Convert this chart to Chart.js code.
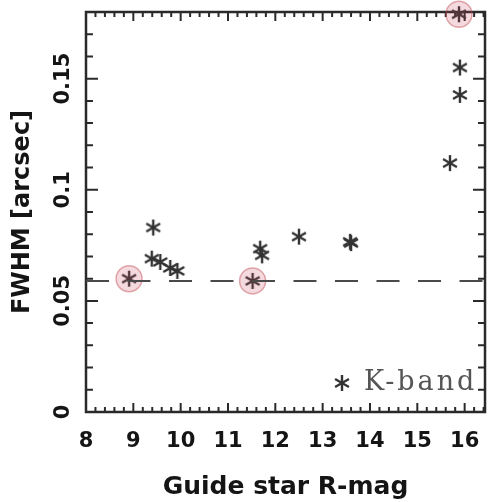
<!DOCTYPE html>
<html>
<head>
<meta charset="utf-8">
<script src="https://cdn.jsdelivr.net/npm/chart.js@4.4.1/dist/chart.umd.min.js"></script>
<style>
  html, body { margin: 0; padding: 0; background: #fff; }
</style>
</head>
<body>
<canvas id="fwhmChart" width="489" height="502"></canvas>
<script>
// K-band measurements: guide star R magnitude and measured FWHM (arcsec)
const kbandMag  = [8.91, 9.42, 9.39, 9.57, 9.78, 9.93, 11.52, 11.68, 11.72, 12.50, 13.58, 13.60, 15.69, 15.90, 15.90, 15.88];
const kbandFwhm = [0.060, 0.083, 0.069, 0.0675, 0.0648, 0.0635, 0.059, 0.0735, 0.0705, 0.0789, 0.0766, 0.0760, 0.112, 0.1427, 0.155, 0.179];

// the three stars that are circled in red
const circledMag  = [8.91, 11.52, 15.88];
const circledFwhm = [0.060, 0.059, 0.179];

// dashed reference line (diffraction limit)
const limitMag  = [8, 16.43];
const limitFwhm = [0.059, 0.059];

// tick labels
const xTickLabels = ['8', '9', '10', '11', '12', '13', '14', '15', '16'];
const yTickLabels = ['0', '0.05', '0.1', '0.15'];

const ink = '#2a2a2a';

// six armed asterisk used as the point style
function makeAsterisk(size, color, lw) {
    const c = document.createElement('canvas');
    c.width = size;
    c.height = size;
    const g = c.getContext('2d');
    g.strokeStyle = color;
    g.lineWidth = lw;
    g.translate(size / 2, size / 2);
    const r = size / 2 - 1;
    for (let k = 0; k < 3; k++) {
        const a = Math.PI / 2 + k * Math.PI / 3;
        g.beginPath();
        g.moveTo(-r * Math.cos(a), -r * Math.sin(a));
        g.lineTo(r * Math.cos(a), r * Math.sin(a));
        g.stroke();
    }
    return c;
}
const asterisk = makeAsterisk(18, '#333', 2.4);

function toPoints(xs, ys) {
    return xs.map((x, i) => ({ x: x, y: ys[i] }));
}

// frame round the plot with inward ticks on all four sides
const framePlugin = {
    id: 'frame',
    beforeDatasetsDraw(chart) {
        const { ctx, chartArea: a, scales: { x, y } } = chart;
        ctx.save();
        ctx.strokeStyle = ink;
        ctx.lineWidth = 2.5;
        ctx.strokeRect(a.left, a.top, a.right - a.left, a.bottom - a.top);
        ctx.lineWidth = 2;
        ctx.beginPath();
        for (let i = 0; i * 0.2 + 8 <= x.max + 1e-9; i++) {
            const px = x.getPixelForValue(8 + i * 0.2);
            const len = i % 5 === 0 ? 9 : 5;
            ctx.moveTo(px, a.bottom); ctx.lineTo(px, a.bottom - len);
            ctx.moveTo(px, a.top); ctx.lineTo(px, a.top + len);
        }
        for (let j = 0; j * 0.01 <= y.max + 1e-9; j++) {
            const py = y.getPixelForValue(j * 0.01);
            const len = j % 5 === 0 ? 12 : 7;
            ctx.moveTo(a.left, py); ctx.lineTo(a.left + len, py);
            ctx.moveTo(a.right, py); ctx.lineTo(a.right - len, py);
        }
        ctx.stroke();
        ctx.restore();
    }
};

// legend drawn inside the plot, bottom right
const cornerLegend = {
    id: 'cornerLegend',
    afterDraw(chart) {
        const { ctx, chartArea: a } = chart;
        const ds = chart.data.datasets[2];
        const yMid = a.bottom - 29;
        ctx.save();
        ctx.drawImage(asterisk, a.right - 152, yMid - 9, 18, 18);
        ctx.fillStyle = '#555';
        ctx.font = '27px "DejaVu Serif"';
        ctx.letterSpacing = '3px';
        ctx.textAlign = 'left';
        ctx.textBaseline = 'middle';
        ctx.fillText(ds.label, a.right - 121, yMid);
        ctx.restore();
    }
};

const ctx = document.getElementById('fwhmChart').getContext('2d');

const chart = new Chart(ctx, {
    type: 'scatter',
    data: {
        datasets: [
            {
                type: 'line',
                label: 'limit',
                data: toPoints(limitMag, limitFwhm),
                borderColor: '#4a4a4a',
                borderWidth: 2,
                borderDash: [23, 18.5],
                pointRadius: 0,
                fill: false
            },
            {
                label: 'circled',
                data: toPoints(circledMag, circledFwhm),
                pointStyle: 'circle',
                pointRadius: 13,
                backgroundColor: 'rgba(200, 70, 90, 0.2)',
                borderColor: 'rgba(190, 70, 80, 0.45)',
                borderWidth: 1.5,
                clip: false,
                order: 0
            },
            {
                label: 'K-band',
                data: toPoints(kbandMag, kbandFwhm),
                pointStyle: asterisk,
                clip: false,
                order: 1
            }
        ]
    },
    options: {
        responsive: false,
        animation: false,
        layout: { autoPadding: false, padding: { top: 12, right: 4, left: 0, bottom: 0 } },
        plugins: {
            legend: { display: false },
            tooltip: { enabled: false }
        },
        scales: {
            x: {
                type: 'linear',
                min: 8,
                max: 16.43,
                grid: { display: false },
                border: { display: false },
                ticks: {
                    stepSize: 1,
                    includeBounds: false,
                    padding: 9,
                    color: '#151515',
                    font: { family: 'DejaVu Sans', weight: 'bold', size: 21 },
                    callback: (value, index) => xTickLabels[index]
                },
                title: {
                    display: true,
                    text: 'Guide star R-mag',
                    color: '#151515',
                    font: { family: 'DejaVu Sans', weight: 'bold', size: 25 },
                    padding: { top: 0, bottom: 0 }
                },
                afterFit: (scale) => {
                    scale.height = 90;
                    scale.paddingLeft = 0;
                    scale.paddingRight = 0;
                }
            },
            y: {
                type: 'linear',
                min: 0,
                max: 0.18,
                grid: { display: false },
                border: { display: false },
                ticks: {
                    stepSize: 0.05,
                    includeBounds: false,
                    minRotation: 90,
                    maxRotation: 90,
                    crossAlign: 'center',
                    padding: -11,
                    color: '#151515',
                    font: { family: 'DejaVu Sans', weight: 'bold', size: 21 },
                    callback: (value, index) => yTickLabels[index]
                },
                title: {
                    display: true,
                    text: 'FWHM [arcsec]',
                    color: '#151515',
                    font: { family: 'DejaVu Sans', weight: 'bold', size: 24 },
                    padding: { top: 8, bottom: 0 }
                },
                afterFit: (scale) => {
                    scale.width = 86;
                    scale.paddingTop = 0;
                    scale.paddingBottom = 0;
                }
            }
        }
    },
    plugins: [framePlugin, cornerLegend]
});
</script>
</body>
</html>
